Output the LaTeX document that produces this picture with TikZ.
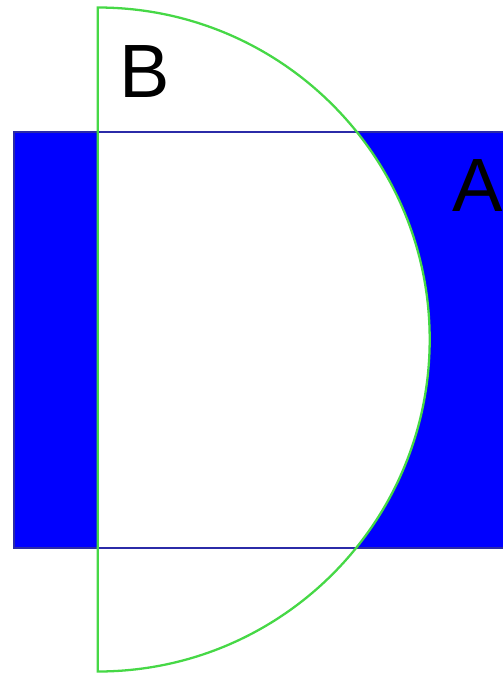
\documentclass[tikz,border=0pt]{standalone}
\usepackage{fontspec}
\setmainfont{Liberation Sans}
\definecolor{setA}{HTML}{0000FF}
\definecolor{edgeA}{HTML}{2B2BA8}
\definecolor{edgeB}{HTML}{46D846}

\begin{document}
\begin{tikzpicture}[
    x=0.02cm, y=-0.02cm,
    line cap=butt, line join=miter,
    setfill/.style={fill=setA},
    rectedge/.style={edgeA, line width=1.0pt},
    diskedge/.style={edgeB, line width=1.3pt},
    setlbl/.style={font=\fontsize{43}{50}\selectfont, inner sep=0pt},
]

% ============================================================
% Geometry constants (pixel units, y down)
% ============================================================
\def\Rdisk{332}
\coordinate (Ctr)  at (97.7, 339.5);
\coordinate (Btop) at (97.7, 7.5);
\coordinate (Bbot) at (97.7, 671.5);
\coordinate (Anw)  at (14, 131.7);
\coordinate (Ase)  at (530, 548.3);

\useasboundingbox (0,0) rectangle (503,674);
\clip (0,0) rectangle (503,674);

% Set A: filled rectangle
\fill[setfill] (Anw) rectangle (Ase);

% Set B: half disk cuts A out
\fill[white] (Btop) arc[start angle=-90, end angle=90, radius=\Rdisk] -- cycle;

% Outlines
\draw[rectedge] (Anw) rectangle (Ase);
\draw[diskedge] (Btop) arc[start angle=-90, end angle=90, radius=\Rdisk] -- cycle;

% Labels
\node[setlbl] (lblB) at (144.7, 72) {B};
\node[setlbl] (lblA) at (477.5, 186) {A};

\end{tikzpicture}
\end{document}
